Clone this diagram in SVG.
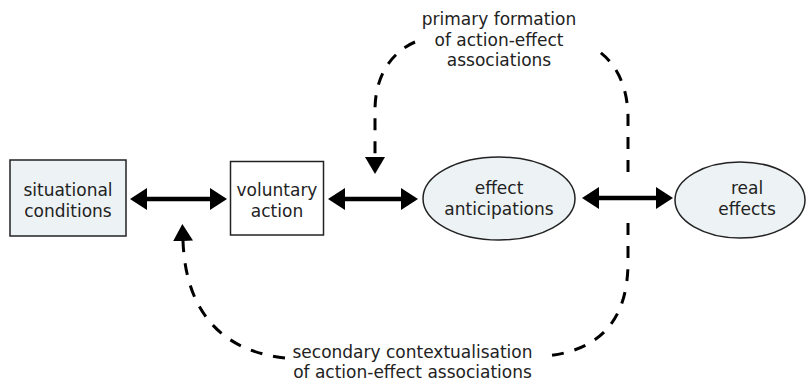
<svg xmlns="http://www.w3.org/2000/svg" width="809" height="381" viewBox="0 0 809 381">
  <style>
    .label { font-family: "DejaVu Sans", Verdana, sans-serif; font-size: 17px; fill: #222; text-anchor: middle; }
    .box { stroke: #222; stroke-width: 1.5; }
    .shaded { fill: #edf2f5; }
    .plain { fill: #ffffff; }
    .solid { fill: none; stroke: #000; stroke-width: 4.5; }
    .dashed { fill: none; stroke: #000; stroke-width: 3; stroke-dasharray: 12 11; }
  </style>
  <defs>
    <!-- solid double-headed arrow tip; tip sits 8px beyond the line end -->
    <marker id="head" viewBox="0 0 17 22" refX="9" refY="11" markerWidth="17" markerHeight="22" markerUnits="userSpaceOnUse" orient="auto-start-reverse">
      <path d="M0,0 L17,11 L0,22 Z" fill="#000"/>
    </marker>
    <!-- arrow tip for the dashed loops; base sits on the path end -->
    <marker id="dhead" viewBox="0 0 17 20" refX="0" refY="10" markerWidth="17" markerHeight="20" markerUnits="userSpaceOnUse" orient="auto">
      <path d="M0,0 L17,10 L0,20 Z" fill="#000"/>
    </marker>
  </defs>

  <g id="situational-conditions">
    <rect class="box shaded" x="10" y="160" width="116" height="76"/>
    <text class="label" x="68" y="195.5">situational</text>
    <text class="label" x="68" y="216.5">conditions</text>
  </g>

  <g id="voluntary-action">
    <rect class="box plain" x="230.5" y="161.5" width="93" height="73.5"/>
    <text class="label" x="277" y="195.5">voluntary</text>
    <text class="label" x="277" y="216.5">action</text>
  </g>

  <g id="effect-anticipations">
    <ellipse class="box shaded" cx="499" cy="198.5" rx="76" ry="41.5"/>
    <text class="label" x="499" y="193.5">effect</text>
    <text class="label" x="499" y="214.5">anticipations</text>
  </g>

  <g id="real-effects">
    <ellipse class="box shaded" cx="740" cy="200" rx="65" ry="38"/>
    <text class="label" x="747" y="194">real</text>
    <text class="label" x="747" y="215">effects</text>
  </g>

  <g id="connectors">
    <line class="solid" x1="138" y1="199" x2="219" y2="199" marker-start="url(#head)" marker-end="url(#head)"/>
    <line class="solid" x1="336" y1="199" x2="410" y2="199" marker-start="url(#head)" marker-end="url(#head)"/>
    <line class="solid" x1="590" y1="198" x2="665" y2="198" marker-start="url(#head)" marker-end="url(#head)"/>

    <!-- upper loop: primary formation -->
    <path class="dashed" d="M628,172 V118 C628,85 615,62 597,50 M415,42 C392,52 375,75 375,110 V157" marker-end="url(#dhead)"/>
    <!-- lower loop: secondary contextualisation -->
    <path class="dashed" d="M628,223 V262 C628,320 600,350 547,356 M285,358 C230,352 186,320 183,241" marker-end="url(#dhead)"/>

    <g id="loop-labels">
      <text class="label" x="499" y="25">primary formation</text>
      <text class="label" x="499" y="45.5">of action-effect</text>
      <text class="label" x="499" y="66">associations</text>
      <text class="label" x="412.5" y="358">secondary contextualisation</text>
      <text class="label" x="412.5" y="378">of action-effect associations</text>
    </g>
  </g>
</svg>
